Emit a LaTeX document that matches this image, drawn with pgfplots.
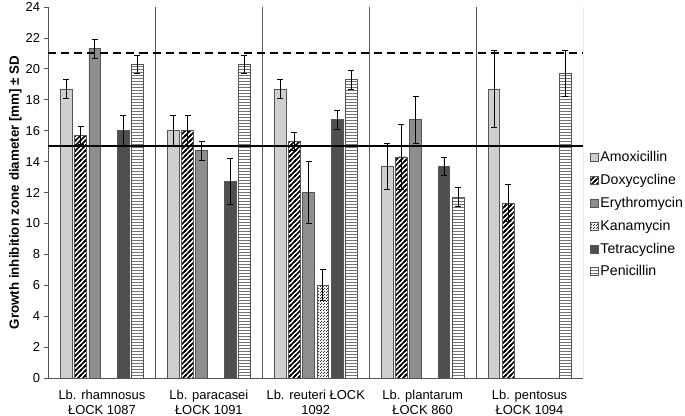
\documentclass[border=0pt]{standalone}
\usepackage{pgfplots}
\pgfplotsset{compat=1.18}
\usepackage{fontspec}
\setmainfont{Liberation Sans}
\usetikzlibrary{patterns,patterns.meta}
\definecolor{amox}{HTML}{CFCFCF}
\definecolor{ery}{HTML}{8E8E8E}
\definecolor{tetra}{HTML}{4F4F4F}
\definecolor{edge}{HTML}{555555}
\pgfdeclarepatternformonly{thickne}{\pgfqpoint{-1bp}{-1bp}}{\pgfqpoint{6bp}{6bp}}{\pgfqpoint{5bp}{5bp}}{%
  \pgfsetlinewidth{1.7bp}%
  \pgfpathmoveto{\pgfqpoint{-1bp}{-1bp}}\pgfpathlineto{\pgfqpoint{6bp}{6bp}}%
  \pgfpathmoveto{\pgfqpoint{-1bp}{4bp}}\pgfpathlineto{\pgfqpoint{1bp}{6bp}}%
  \pgfpathmoveto{\pgfqpoint{4bp}{-1bp}}\pgfpathlineto{\pgfqpoint{6bp}{1bp}}%
  \pgfusepath{stroke}}
\pgfdeclarepatternformonly{hlines}{\pgfqpoint{-1bp}{-1bp}}{\pgfqpoint{4bp}{4bp}}{\pgfqpoint{3bp}{3bp}}{%
  \pgfsetlinewidth{0.9bp}%
  \pgfpathmoveto{\pgfqpoint{-1bp}{1.5bp}}\pgfpathlineto{\pgfqpoint{4bp}{1.5bp}}%
  \pgfusepath{stroke}}
\pgfdeclarepatternformonly{checkdots}{\pgfqpoint{0bp}{0bp}}{\pgfqpoint{2.6bp}{2.6bp}}{\pgfqpoint{2.6bp}{2.6bp}}{%
  \pgfpathrectangle{\pgfqpoint{0bp}{0bp}}{\pgfqpoint{1.1bp}{1.1bp}}%
  \pgfpathrectangle{\pgfqpoint{1.3bp}{1.3bp}}{\pgfqpoint{1.1bp}{1.1bp}}%
  \pgfusepath{fill}}
\newcommand{\xl}{\fontsize{13}{14.5}\selectfont}
\begin{document}
\fontsize{13}{15}\selectfont
\begin{tikzpicture}[font=\fontsize{13}{15}\selectfont]
\useasboundingbox (-48.5bp,-38bp) rectangle (636.5bp,378bp);
\begin{axis}[
  at={(0,0)}, anchor=south west,
  scale only axis, width=534.5bp, height=371bp,
  xmin=-0.5, xmax=4.5, ymin=0, ymax=24,
  axis lines=left, axis line style={-, edge, line width=0.8bp},
  ytick={0,2,...,24}, xtick={0,1,2,3,4},
  xticklabels={{\xl Lb. rhamnosus\\\xl ŁOCK 1087}, {\xl Lb. paracasei\\\xl ŁOCK 1091}, {\xl Lb. reuteri ŁOCK\\\xl 1092}, {\xl Lb. plantarum\\\xl ŁOCK 860}, {\xl Lb. pentosus\\\xl ŁOCK 1094}},
  tick label style={font=\fontsize{13}{14.5}\selectfont},
  xticklabel style={align=center, yshift=-4bp, font=\xl},
  /pgf/number format/assume math mode=true,
  x tick style={draw=none},
  y tick style={edge, line width=0.8bp},
  tick align=outside, major tick length=4bp,
  ylabel={\bfseries Growth inhibition zone diameter [mm] ± SD},
  ylabel style={font=\fontsize{13.4}{16}\selectfont, yshift=-5bp},
  legend style={at={(1.0125,0.616)}, anchor=north west, draw=none, fill=none,
    font=\fontsize{14.2}{16}\selectfont, row sep=6.6bp, inner sep=0pt},
  legend cell align=left,
  legend image code/.code={\draw[#1,draw=edge,line width=0.6bp] (0bp,-4bp) rectangle (8bp,4bp);},
  every axis plot/.append style={line width=0.8bp},
  error bars/error bar style={black, line width=0.8bp},
  error bars/error mark options={rotate=90, black, mark size=3bp, line width=0.8bp},
]
% separators
\addplot[forget plot, edge, line width=0.8bp] coordinates {(0.5,0) (0.5,24)};
\addplot[forget plot, edge, line width=0.8bp] coordinates {(1.5,0) (1.5,24)};
\addplot[forget plot, edge, line width=0.8bp] coordinates {(2.5,0) (2.5,24)};
\addplot[forget plot, edge, line width=0.8bp] coordinates {(3.5,0) (3.5,24)};
\addplot[forget plot, edge, line width=0.8bp] coordinates {(4.5,0) (4.5,24)};
% Amoxicillin
\addplot[ybar, bar width=0.11, bar shift=0, fill=amox, draw=edge,
  error bars/.cd, y dir=both, y explicit]
  coordinates {(-0.3325,18.7) +- (0,0.6) (0.6675,16) +- (0,1.0) (1.6675,18.7) +- (0,0.6) (2.6675,13.7) +- (0,1.5) (3.6675,18.7) +- (0,2.5)};
% Doxycycline
\addplot[ybar, bar width=0.11, bar shift=0, fill=white, draw=edge,
  postaction={pattern=thickne, pattern color=black},
  error bars/.cd, y dir=both, y explicit]
  coordinates {(-0.1995,15.7) +- (0,0.6) (0.8005,16) +- (0,1.0) (1.8005,15.3) +- (0,0.6) (2.8005,14.3) +- (0,2.1) (3.8005,11.3) +- (0,1.2)};
% Erythromycin
\addplot[ybar, bar width=0.11, bar shift=0, fill=ery, draw=edge,
  error bars/.cd, y dir=both, y explicit]
  coordinates {(-0.0665,21.3) +- (0,0.6) (0.9335,14.7) +- (0,0.6) (1.9335,12) +- (0,2.0) (2.9335,16.7) +- (0,1.5)};
% Kanamycin
\addplot[ybar, bar width=0.11, bar shift=0, fill=white, draw=edge,
  postaction={pattern=checkdots, pattern color=black!80},
  error bars/.cd, y dir=both, y explicit]
  coordinates {(2.0665,6) +- (0,1.0)};
% Tetracycline
\addplot[ybar, bar width=0.11, bar shift=0, fill=tetra, draw=edge,
  error bars/.cd, y dir=both, y explicit]
  coordinates {(0.1995,16) +- (0,1.0) (1.1995,12.7) +- (0,1.5) (2.1995,16.7) +- (0,0.6) (3.1995,13.7) +- (0,0.6)};
% Penicillin
\addplot[ybar, bar width=0.11, bar shift=0, fill=white, draw=edge,
  postaction={pattern=hlines, pattern color=black!55},
  error bars/.cd, y dir=both, y explicit]
  coordinates {(0.3325,20.3) +- (0,0.6) (1.3325,20.3) +- (0,0.6) (2.3325,19.3) +- (0,0.6) (3.3325,11.7) +- (0,0.6) (4.3325,19.7) +- (0,1.5)};
% reference lines
\addplot[forget plot, black, line width=1.8bp] coordinates {(-0.5,15) (4.5,15)};
\addplot[forget plot, black, line width=1.8bp, dash pattern=on 8bp off 5bp] coordinates {(-0.5,21) (4.5,21)};
\legend{Amoxicillin, Doxycycline, Erythromycin, Kanamycin, Tetracycline, Penicillin}
\end{axis}
\end{tikzpicture}
\end{document}
